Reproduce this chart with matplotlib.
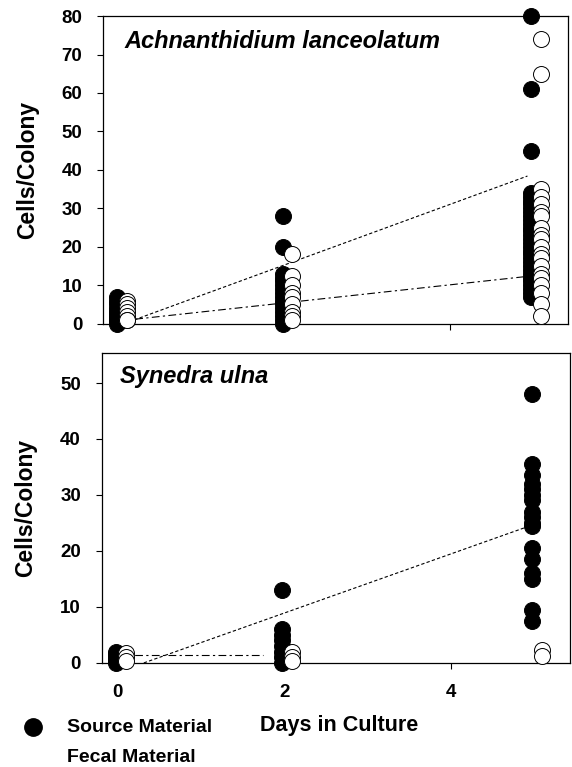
import matplotlib
matplotlib.use("Agg")
import matplotlib.pyplot as plt
from matplotlib.lines import Line2D

plt.rcParams['font.family'] = ['Liberation Sans', 'DejaVu Sans']

# ---------------- data ----------------
days = [0, 2, 5]

# Achnanthidium lanceolatum
ach_source_d0 = [7, 6, 5, 4, 3, 3, 2, 2, 1, 1, 0]
ach_source_d2 = [28, 20, 13, 12, 11, 10, 9, 8, 7, 6, 5, 4, 3, 2, 1, 0]
ach_source_d5 = [80, 61, 45, 34, 33, 32, 31, 30, 29, 28, 27, 26, 25, 24, 23, 22,
                 21, 20, 19, 18, 17, 16, 15, 14, 13, 12, 11, 10, 9, 8, 7]
ach_fecal_d0 = [6, 5, 4, 3, 2, 1, 1]
ach_fecal_d2 = [18, 12.5, 10, 8, 7, 5, 3, 2, 1]
ach_fecal_d5 = [74, 65, 35, 33, 31, 29, 28, 25, 23, 22, 20, 18, 17, 15, 13, 12,
                10, 8, 5, 2]
ach_src_fit_x = [0, 4.94]
ach_src_fit_y = [-0.5, 38.4]
ach_fec_fit_x = [0, 4.94]
ach_fec_fit_y = [0.7, 12.3]

# Synedra ulna
syn_source_d0 = [2, 1.5, 1, 0.5, 0]
syn_source_d2 = [13, 6, 5, 4, 3, 2, 1, 0]
syn_source_d5 = [48, 35.5, 33.5, 32, 31, 30, 29, 27, 26, 25, 24.5, 20.5, 18.5,
                 16, 15, 9.5, 7.5]
syn_fecal_d0 = [1.8, 1, 0.3]
syn_fecal_d2 = [2, 1, 0.3]
syn_fecal_d5 = [2.2, 1.2]
syn_src_fit_x = [0, 4.94]
syn_src_fit_y = [-1.7, 24.4]
syn_fec_fit_x = [0, 1.75]
syn_fec_fit_y = [1.3, 1.3]

xticks = [0, 2, 4]
top_yticks = [0, 10, 20, 30, 40, 50, 60, 70, 80]
bot_yticks = [0, 10, 20, 30, 40, 50]

# ---------------- figure ----------------
fig = plt.figure(figsize=(5.72, 7.67), dpi=100)
ax1 = fig.add_axes([0.180, 0.578, 0.813, 0.401])
ax2 = fig.add_axes([0.178, 0.136, 0.818, 0.404])

MS = 11.5
SRC_OFF = -0.02
FEC_OFF = 0.1


def panel(ax, src, fec, sfx, sfy, ffx, ffy, ylim, yticks, title, tx, ty, show_x):
    ax.plot(sfx, sfy, color='black', lw=0.8, dashes=(3, 2), zorder=1)
    ax.plot(ffx, ffy, color='black', lw=0.8, dashes=(7, 3, 2, 3), zorder=1)
    for d, vals in zip(days, src):
        ax.plot([d + SRC_OFF] * len(vals), vals, 'o', ms=MS, mfc='black',
                mec='black', mew=0.7, ls='none', zorder=2, clip_on=False)
    for d, vals in zip(days, fec):
        ax.plot([d + FEC_OFF] * len(vals), vals, 'o', ms=MS, mfc='white',
                mec='black', mew=0.7, ls='none', zorder=3, clip_on=False)
    ax.set_xlim(-0.19, 5.43)
    ax.set_ylim(*ylim)
    ax.set_xticks(xticks)
    ax.set_yticks(yticks)
    ax.tick_params(axis='both', direction='out', length=4, width=0.8,
                   labelsize=13.5, pad=11)
    for lab in ax.get_yticklabels() + ax.get_xticklabels():
        lab.set_fontweight('bold')
    if not show_x:
        ax.tick_params(axis='x', labelbottom=False)
    for s in ax.spines.values():
        s.set_linewidth(0.9)
    ax.set_ylabel('Cells/Colony', fontsize=16.5, fontweight='bold', labelpad=4)
    ax.yaxis.set_label_coords(-0.138, 0.5)
    ax.text(tx, ty, title, transform=ax.transAxes, fontsize=17,
            fontweight='bold', fontstyle='italic', va='center', ha='left')


panel(ax1, [ach_source_d0, ach_source_d2, ach_source_d5],
      [ach_fecal_d0, ach_fecal_d2, ach_fecal_d5],
      ach_src_fit_x, ach_src_fit_y, ach_fec_fit_x, ach_fec_fit_y,
      (0, 80), top_yticks, 'Achnanthidium lanceolatum', 0.047, 0.916, False)
panel(ax2, [syn_source_d0, syn_source_d2, syn_source_d5],
      [syn_fecal_d0, syn_fecal_d2, syn_fecal_d5],
      syn_src_fit_x, syn_src_fit_y, syn_fec_fit_x, syn_fec_fit_y,
      (0, 55.4), bot_yticks, 'Synedra ulna', 0.038, 0.923, True)

# x label
fig.text(339 / 572, 1 - 725 / 767, 'Days in Culture', fontsize=15.5,
         fontweight='bold', ha='center', va='center')

# legend
fig.add_artist(Line2D([33 / 572], [1 - 727 / 767], marker='o', ms=MS + 1,
                      mfc='black', mec='black', ls='none',
                      transform=fig.transFigure))
fig.add_artist(Line2D([33 / 572], [1 - 758 / 767], marker='o', ms=MS,
                      mfc='white', mec='white', ls='none',
                      transform=fig.transFigure))
fig.text(67 / 572, 1 - 727 / 767, 'Source Material', fontsize=14,
         fontweight='bold', ha='left', va='center')
fig.text(67 / 572, 1 - 758 / 767, 'Fecal Material', fontsize=14,
         fontweight='bold', ha='left', va='center')

fig.savefig('out.png', dpi=100, facecolor='white')
